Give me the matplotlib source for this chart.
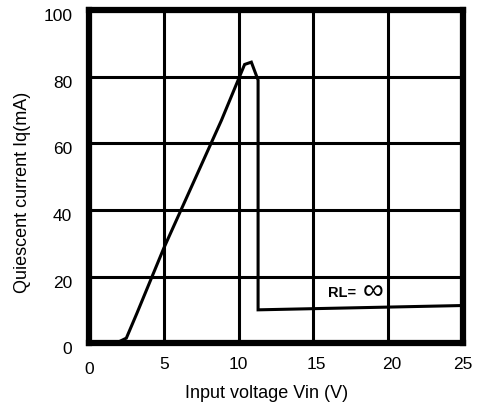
import matplotlib
matplotlib.use("Agg")
import matplotlib.pyplot as plt
from matplotlib.transforms import ScaledTranslation

# Data
vin = [1.6, 2.0, 2.5, 3.2, 5.0, 8.85, 10.4, 10.85, 11.3, 11.3, 25.0]
iq  = [0.0, 0.4, 1.5, 8.9, 28.5, 66.9, 83.7, 84.4, 79.0, 10.0, 11.3]

xticks = [0, 5, 10, 15, 20, 25]
yticks = [0, 20, 40, 60, 80, 100]
xlabel = "Input voltage Vin (V)"
ylabel = "Quiescent current Iq(mA)"
note = "RL="
inf_sym = "\u221e"

plt.rcParams['font.family'] = ['Liberation Sans', 'DejaVu Sans']

fig = plt.figure(figsize=(4.78, 4.08), dpi=100)
ax = fig.add_axes([0.186, 0.159, 0.783, 0.816])

ax.set_xlim(0, 25)
ax.set_ylim(0, 100)
ax.set_xticks(xticks)
ax.set_yticks(yticks)
ax.grid(True, color='black', linewidth=2.2)
ax.set_axisbelow(True)
for s in ax.spines.values():
    s.set_linewidth(4.5)
    s.set_color('black')

ax.plot(vin, iq, color='black', linewidth=2.2, solid_joinstyle='miter', clip_on=False)

ax.tick_params(length=0, labelsize=12.5, pad=10)
ax.tick_params(axis='y', pad=12)

# shift labels slightly as in reference
for lab in ax.get_yticklabels():
    lab.set_transform(lab.get_transform() + ScaledTranslation(0, -0.05, fig.dpi_scale_trans))
xl = ax.get_xticklabels()
xl[0].set_transform(xl[0].get_transform() + ScaledTranslation(0, -0.05, fig.dpi_scale_trans))
for lab in xl[3:5]:
    lab.set_transform(lab.get_transform() + ScaledTranslation(0.03, 0, fig.dpi_scale_trans))

ax.set_xlabel(xlabel, fontsize=13)
ax.set_ylabel(ylabel, fontsize=13)
ax.xaxis.set_label_coords(0.476, -0.125)
ax.yaxis.set_label_coords(-0.155, 0.453)

ax.text(16.0, 15.0, note, fontsize=10.5, fontweight='bold', ha='left', va='center')
ax.text(18.3, 15.6, inf_sym, fontsize=21, ha='left', va='center')

fig.savefig("out.png", dpi=100)
